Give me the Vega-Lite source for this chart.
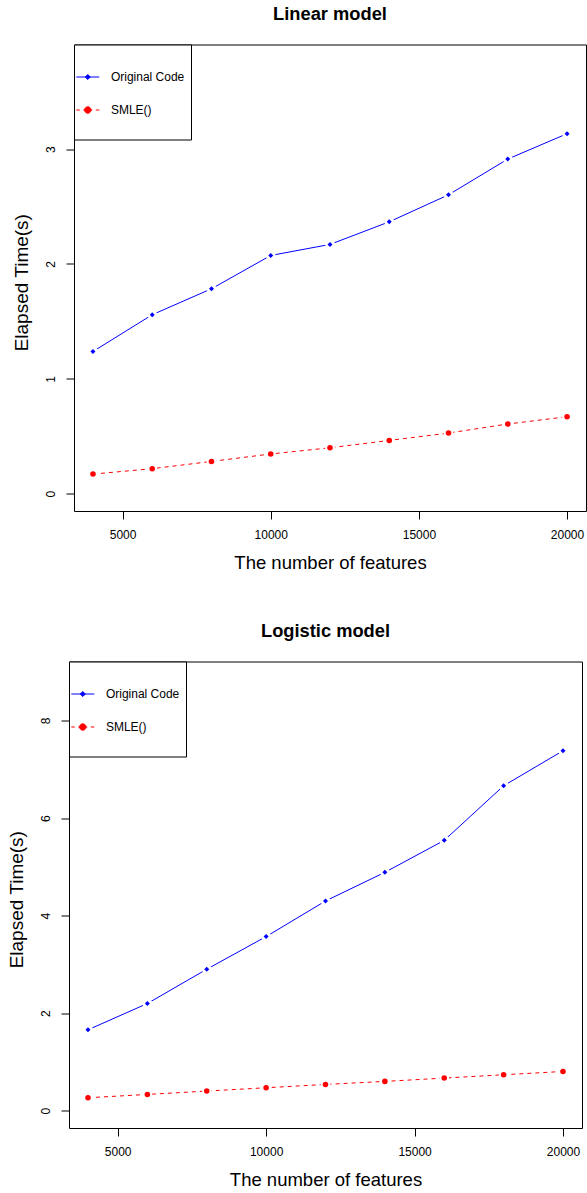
{
  "$schema": "https://vega.github.io/schema/vega-lite/v6.json",
  "padding": {"left": 7, "top": 4.5, "right": 0, "bottom": 0},
  "background": "white",
  "datasets": {
    "linear": [
      {"features": 4000, "method": "Original Code", "time": 1.238},
      {"features": 6000, "method": "Original Code", "time": 1.558},
      {"features": 8000, "method": "Original Code", "time": 1.784},
      {"features": 10000, "method": "Original Code", "time": 2.074},
      {"features": 12000, "method": "Original Code", "time": 2.170},
      {"features": 14000, "method": "Original Code", "time": 2.367},
      {"features": 16000, "method": "Original Code", "time": 2.602},
      {"features": 18000, "method": "Original Code", "time": 2.913},
      {"features": 20000, "method": "Original Code", "time": 3.134},
      {"features": 4000, "method": "SMLE()", "time": 0.171},
      {"features": 6000, "method": "SMLE()", "time": 0.218},
      {"features": 8000, "method": "SMLE()", "time": 0.281},
      {"features": 10000, "method": "SMLE()", "time": 0.346},
      {"features": 12000, "method": "SMLE()", "time": 0.400},
      {"features": 14000, "method": "SMLE()", "time": 0.464},
      {"features": 16000, "method": "SMLE()", "time": 0.528},
      {"features": 18000, "method": "SMLE()", "time": 0.607},
      {"features": 20000, "method": "SMLE()", "time": 0.670}
    ],
    "logistic": [
      {"features": 4000, "method": "Original Code", "time": 1.659},
      {"features": 6000, "method": "Original Code", "time": 2.198},
      {"features": 8000, "method": "Original Code", "time": 2.901},
      {"features": 10000, "method": "Original Code", "time": 3.570},
      {"features": 12000, "method": "Original Code", "time": 4.300},
      {"features": 14000, "method": "Original Code", "time": 4.887},
      {"features": 16000, "method": "Original Code", "time": 5.543},
      {"features": 18000, "method": "Original Code", "time": 6.662},
      {"features": 20000, "method": "Original Code", "time": 7.379},
      {"features": 4000, "method": "SMLE()", "time": 0.266},
      {"features": 6000, "method": "SMLE()", "time": 0.334},
      {"features": 8000, "method": "SMLE()", "time": 0.403},
      {"features": 10000, "method": "SMLE()", "time": 0.471},
      {"features": 12000, "method": "SMLE()", "time": 0.539},
      {"features": 14000, "method": "SMLE()", "time": 0.601},
      {"features": 16000, "method": "SMLE()", "time": 0.669},
      {"features": 18000, "method": "SMLE()", "time": 0.737},
      {"features": 20000, "method": "SMLE()", "time": 0.805}
    ]
  },
  "config": {
    "font": "Liberation Sans",
    "view": {"stroke": "black", "strokeWidth": 1},
    "axis": {
      "domain": false, "grid": false, "ticks": true, "tickColor": "black", "tickSize": 8, "tickWidth": 1,
      "labelFont": "Liberation Sans", "labelFontSize": 12, "labelColor": "black",
      "labelFlush": false, "labelOverlap": false, "labelBound": false,
      "titleFont": "Liberation Sans", "titleFontWeight": "normal", "titleColor": "black"
    },
    "axisX": {"labelBaseline": "alphabetic", "labelAlign": "center", "labelPadding": 19.4, "titleFontSize": 18.5, "titleBaseline": "alphabetic", "titleY": 57.3, "titleAlign": "center"},
    "axisY": {"labelAngle": -90, "labelAlign": "center", "labelBaseline": "alphabetic", "labelPadding": 12, "titleFontSize": 19, "titleAngle": -90, "titleBaseline": "alphabetic", "titleX": -46.3, "titleY": 237.7, "titleAlign": "center"},
    "legend": {"orient": "top-left", "offset": 0, "padding": 6.2, "titleFontSize": 1, "titlePadding": 12.8, "strokeColor": "black", "fillColor": "white", "symbolSize": 576, "symbolStrokeWidth": 1, "symbolOffset": -4.9, "labelOffset": 10.6, "rowPadding": 14, "labelFont": "Liberation Sans", "labelFontSize": 12, "labelColor": "black", "labelLimit": 300}
  },
  "resolve": {"scale": {"fill": "independent", "stroke": "independent", "shape": "independent"}, "legend": {"fill": "independent", "stroke": "independent", "shape": "independent"}},
  "spacing": 49,
  "vconcat": [
    {
      "bounds": "flush",
      "spacing": 4,
      "resolve": {"scale": {"fill": "independent", "stroke": "independent", "shape": "independent"}, "legend": {"fill": "independent", "stroke": "independent", "shape": "independent"}},
      "hconcat": [
        {"width": 1, "height": 1, "data": {"values": []}, "mark": {"type": "point", "opacity": 0}, "view": {"stroke": null}},
        {
          "width": 512, "height": 466.5,
          "title": {"text": "Linear model", "fontSize": 18.3, "fontWeight": "bold", "font": "Liberation Sans", "color": "black", "baseline": "alphabetic", "offset": 5.3, "anchor": "middle", "frame": "group"},
          "data": {"name": "linear"},
          "encoding": {
            "x": {"field": "features", "type": "quantitative", "scale": {"domain": [3360, 20640], "nice": false, "zero": false}, "axis": {"title": "The number of features", "values": [5000, 10000, 15000, 20000], "format": "d"}},
            "y": {"field": "time", "type": "quantitative", "scale": {"domain": [-0.1504, 3.9104], "nice": false, "zero": false}, "axis": {"title": "Elapsed Time(s)", "values": [0, 1, 2, 3], "format": "d"}}
          },
          "layer": [
            {"transform": [{"filter": "datum.method === 'Original Code'"}], "mark": {"type": "line", "color": "#0000ff", "strokeWidth": 1}},
            {"transform": [{"filter": "datum.method === 'SMLE()'"}], "mark": {"type": "line", "color": "#ff0000", "strokeWidth": 1, "strokeDash": [4, 4]}},
            {"mark": {"type": "point", "shape": "circle", "filled": true, "color": "white", "size": 95, "opacity": 1}},
            {"transform": [{"filter": "datum.method === 'Original Code'"}], "mark": {"type": "point", "shape": "diamond", "filled": true, "color": "#0000ff", "size": 25, "opacity": 1}},
            {"transform": [{"filter": "datum.method === 'SMLE()'"}], "mark": {"type": "point", "shape": "circle", "filled": true, "color": "#ff0000", "size": 31, "opacity": 1}},
            {
              "transform": [{"filter": "false"}],
              "mark": {"type": "point", "filled": true, "opacity": 1, "strokeWidth": 1},
              "encoding": {
                "fill": {"field": "method", "type": "nominal", "scale": {"domain": ["Original Code", "SMLE()"], "range": ["#0000ff", "#ff0000"]}, "legend": {"title": " "}},
                "stroke": {"field": "method", "type": "nominal", "scale": {"domain": ["Original Code", "SMLE()"], "range": ["#0000ff", "#ff0000"]}, "legend": {"title": " "}},
                "shape": {"field": "method", "type": "nominal", "scale": {"domain": ["Original Code", "SMLE()"], "range": ["M-0.958,0H0.958M0,-0.208L0.208,0L0,0.208L-0.208,0Z", "M0,1.71M-0.958,0H-0.667M-0.375,0H-0.083M0.083,0H0.375M0.667,0H0.958M0.267,0A0.267,0.267,0,1,1,-0.267,0A0.267,0.267,0,1,1,0.267,0ZM0,1.71"]}, "legend": {"title": " "}}
              }
            }
          ]
        }
      ]
    },
    {
      "width": 513, "height": 466.5,
      "title": {"text": "Logistic model", "fontSize": 18.3, "fontWeight": "bold", "font": "Liberation Sans", "color": "black", "baseline": "alphabetic", "offset": 5.3, "anchor": "middle", "frame": "group"},
      "data": {"name": "logistic"},
      "encoding": {
        "x": {"field": "features", "type": "quantitative", "scale": {"domain": [3360, 20640], "nice": false, "zero": false}, "axis": {"title": "The number of features", "values": [5000, 10000, 15000, 20000], "format": "d"}},
        "y": {"field": "time", "type": "quantitative", "scale": {"domain": [-0.3542, 9.2092], "nice": false, "zero": false}, "axis": {"title": "Elapsed Time(s)", "values": [0, 2, 4, 6, 8], "format": "d"}}
      },
      "layer": [
        {"transform": [{"filter": "datum.method === 'Original Code'"}], "mark": {"type": "line", "color": "#0000ff", "strokeWidth": 1}},
        {"transform": [{"filter": "datum.method === 'SMLE()'"}], "mark": {"type": "line", "color": "#ff0000", "strokeWidth": 1, "strokeDash": [4, 4]}},
        {"mark": {"type": "point", "shape": "circle", "filled": true, "color": "white", "size": 95, "opacity": 1}},
        {"transform": [{"filter": "datum.method === 'Original Code'"}], "mark": {"type": "point", "shape": "diamond", "filled": true, "color": "#0000ff", "size": 25, "opacity": 1}},
        {"transform": [{"filter": "datum.method === 'SMLE()'"}], "mark": {"type": "point", "shape": "circle", "filled": true, "color": "#ff0000", "size": 31, "opacity": 1}},
        {
          "transform": [{"filter": "false"}],
          "mark": {"type": "point", "filled": true, "opacity": 1, "strokeWidth": 1},
          "encoding": {
            "fill": {"field": "method", "type": "nominal", "scale": {"domain": ["Original Code", "SMLE()"], "range": ["#0000ff", "#ff0000"]}, "legend": {"title": " "}},
            "stroke": {"field": "method", "type": "nominal", "scale": {"domain": ["Original Code", "SMLE()"], "range": ["#0000ff", "#ff0000"]}, "legend": {"title": " "}},
            "shape": {"field": "method", "type": "nominal", "scale": {"domain": ["Original Code", "SMLE()"], "range": ["M-0.958,0H0.958M0,-0.208L0.208,0L0,0.208L-0.208,0Z", "M0,1.71M-0.958,0H-0.667M-0.375,0H-0.083M0.083,0H0.375M0.667,0H0.958M0.267,0A0.267,0.267,0,1,1,-0.267,0A0.267,0.267,0,1,1,0.267,0ZM0,1.71"]}, "legend": {"title": " "}}
          }
        }
      ]
    }
  ]
}
